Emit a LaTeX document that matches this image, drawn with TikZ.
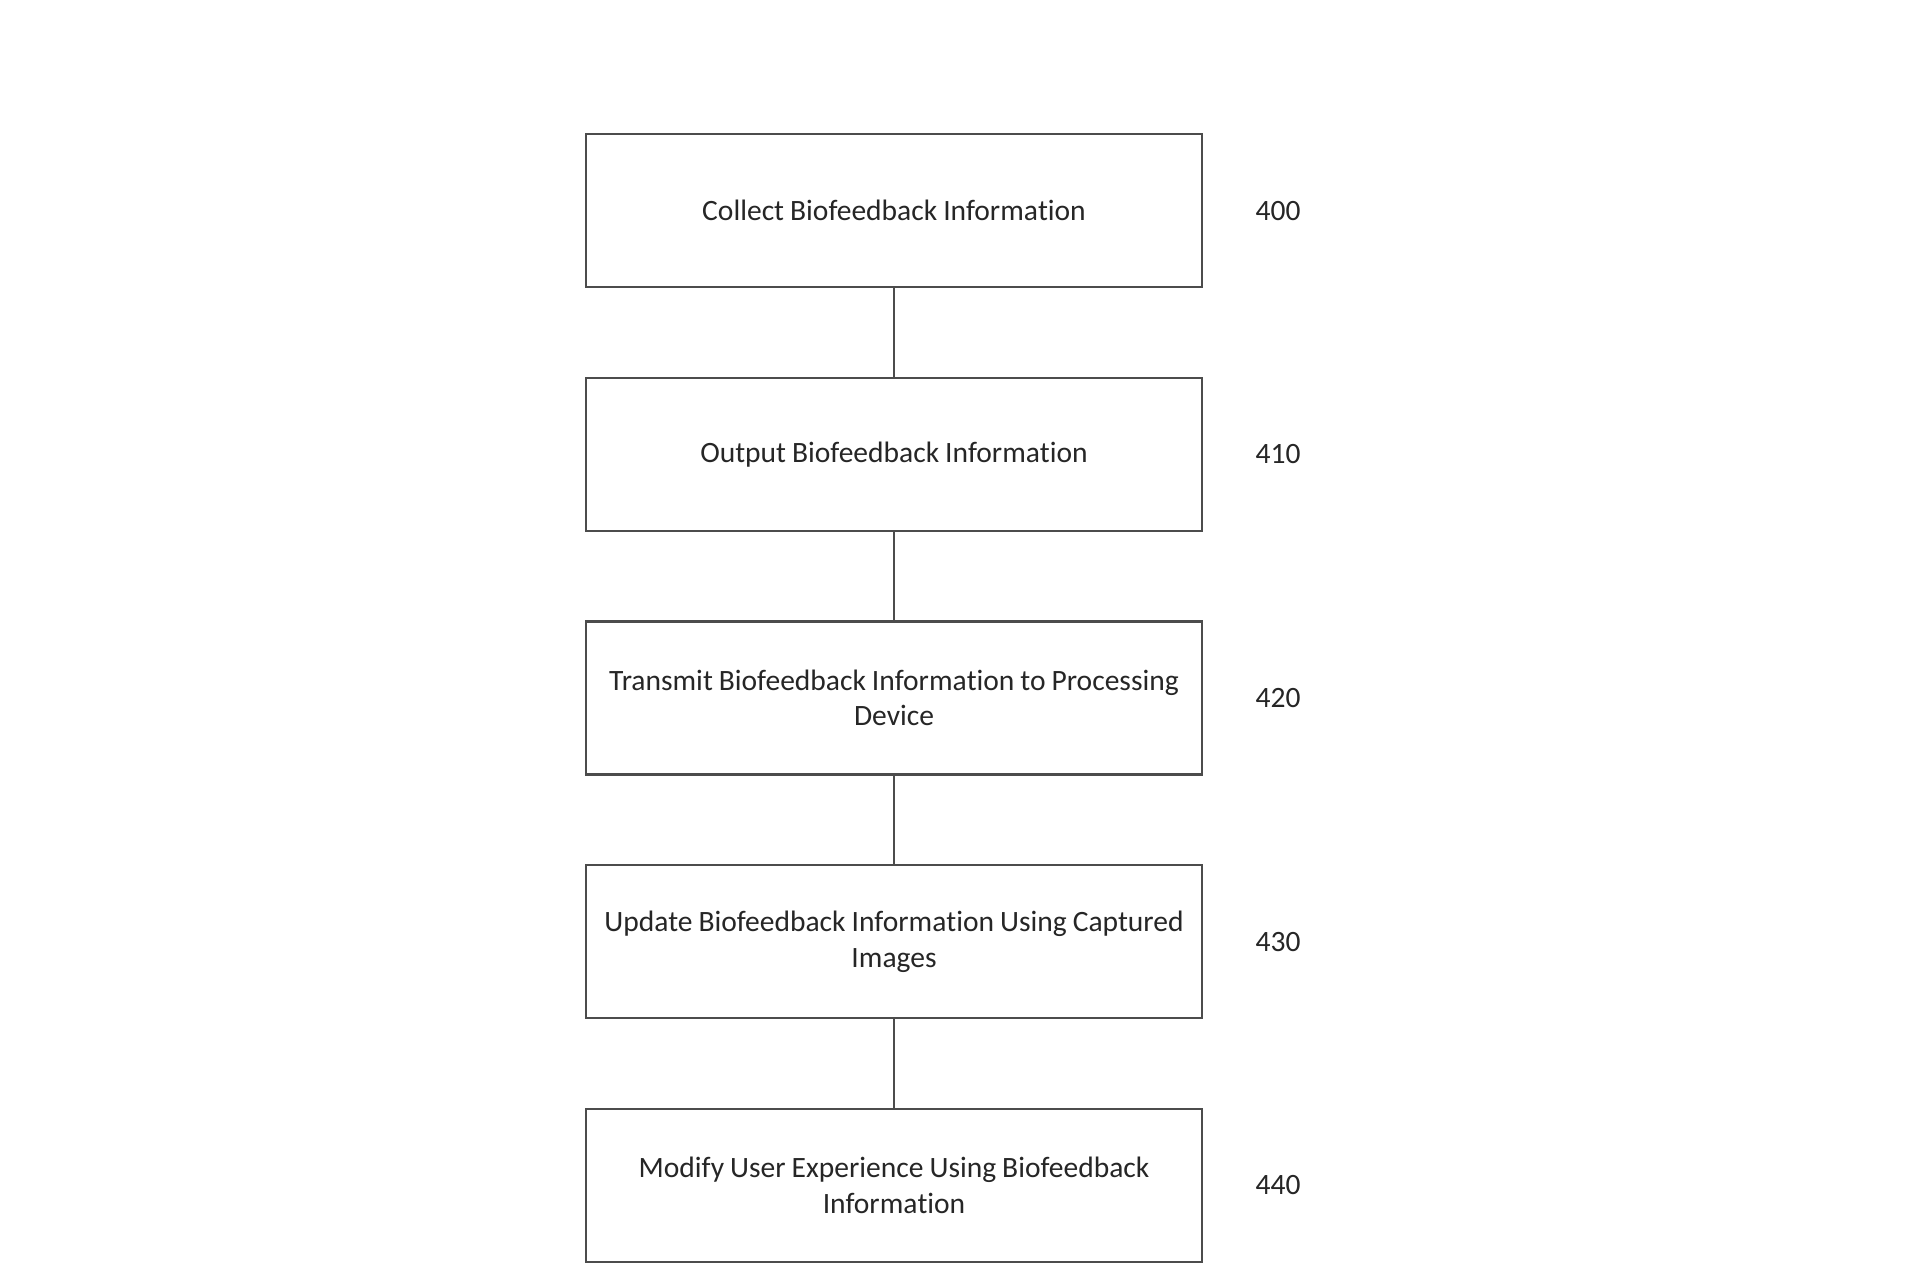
\documentclass[tikz,border=0pt]{standalone}
\usepackage{fontspec}
\setmainfont[RawFeature={-liga;-clig;-dlig;-calt},WordSpace=0.9]{Carlito}
\begin{document}
\begin{tikzpicture}[x=1cm,y=1cm,
  stepbox/.style={draw=black!70, line width=0.6pt, minimum width=6.16cm, minimum height=1.53cm,
    inner sep=0pt, align=center, font=\fontsize{8.4}{10.1}\selectfont, text=black!85},
  reflabel/.style={font=\fontsize{8.4}{10.1}\selectfont, text=black!85},
  conn/.style={draw=black!70, line width=0.6pt}]
\useasboundingbox[fill=white] (0,0) rectangle (19.2,12.8);
\node[stepbox] (s400) at (8.94,10.692) {Collect Biofeedback Informa\kern0pt tion};
\node[stepbox] (s410) at (8.94,8.256) {Output Biofeedback Informa\kern0pt tion};
\node[stepbox] (s420) at (8.94,5.820) {Transmit Biofeedback Informa\kern0pt tion to Processing\\Device};
\node[stepbox] (s430) at (8.94,3.384) {Update Biofeedback Informa\kern0pt tion Using Captured\\Images};
\node[stepbox] (s440) at (8.94,0.948) {Modify User Experience Using Biofeedback\\Informa\kern0pt tion};
\node[reflabel] (l400) at (12.78,10.692) {400};
\node[reflabel] (l410) at (12.78,8.256) {410};
\node[reflabel] (l420) at (12.78,5.820) {420};
\node[reflabel] (l430) at (12.78,3.384) {430};
\node[reflabel] (l440) at (12.78,0.948) {440};
\draw[conn] (s400.south) -- (s410.north);
\draw[conn] (s410.south) -- (s420.north);
\draw[conn] (s420.south) -- (s430.north);
\draw[conn] (s430.south) -- (s440.north);
\end{tikzpicture}
\end{document}
